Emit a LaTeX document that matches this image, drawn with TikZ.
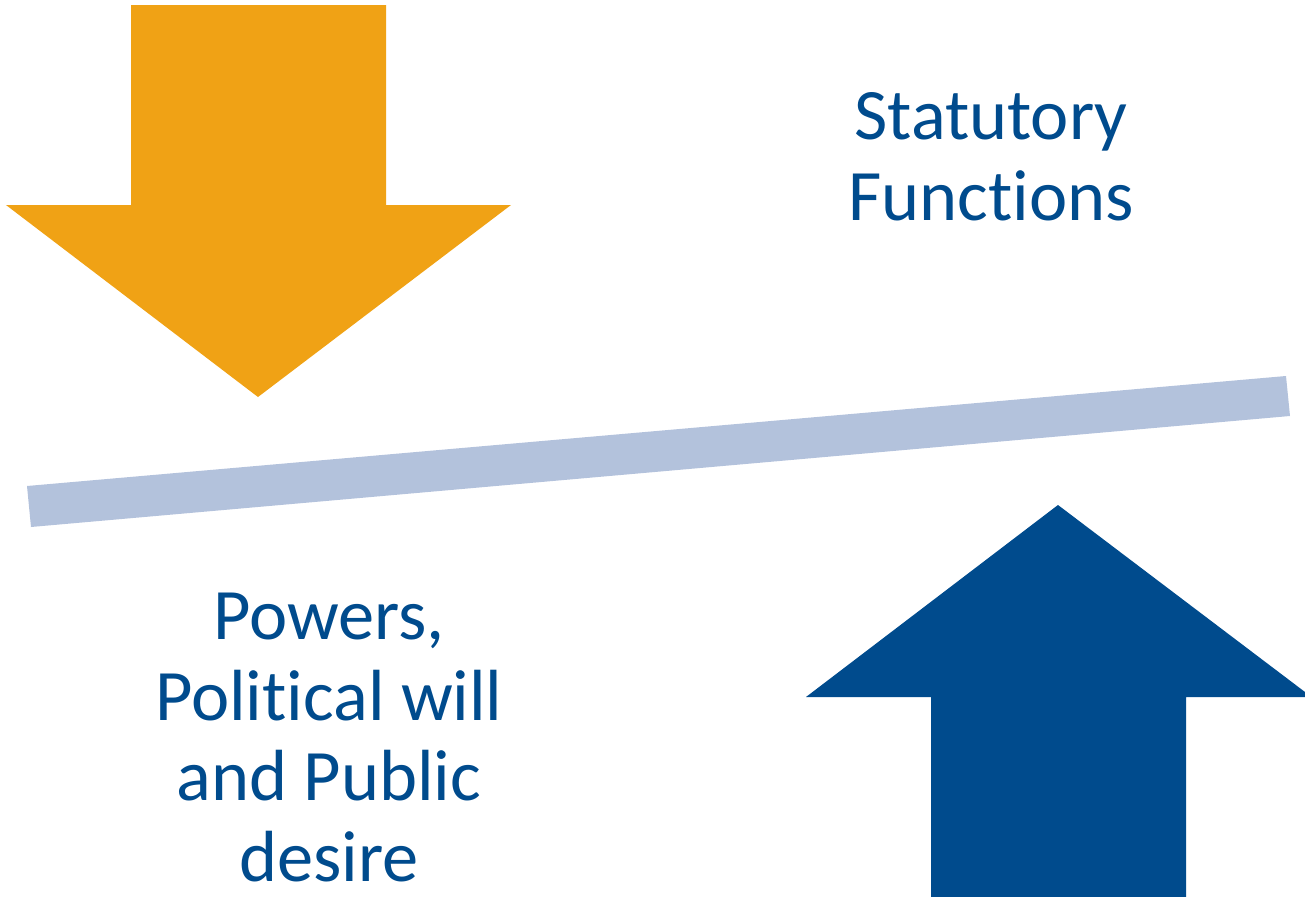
\documentclass[tikz,border=0pt]{standalone}
\usepackage{fontspec}
\setmainfont[Ligatures=NoCommon]{Carlito}
\definecolor{arroworange}{HTML}{F0A215}
\definecolor{arrowblue}{HTML}{004B8D}
\definecolor{beamblue}{HTML}{B3C2DC}
\tikzset{
  label text/.style={text=arrowblue, align=center, inner sep=0pt,
    font=\fontsize{20.6pt}{23pt}\selectfont},
}
\begin{document}
\begin{tikzpicture}[x=0.01cm,y=-0.01cm]
\useasboundingbox (0,0) rectangle (1305,897);

% downward arrow
\fill[arroworange] (131,5) -- (386,5) -- (386,205) -- (511,205) -- (258,397)
  -- (6,205) -- (131,205) -- cycle;

% tilted beam
\fill[beamblue] (27,486) -- (1286,376) -- (1290,416) -- (31,527) -- cycle;

% upward arrow
\fill[arrowblue] (931,897) -- (931,697) -- (806,697) -- (1058,505)
  -- (1305,692) -- (1305,697) -- (1186,697) -- (1186,897) -- cycle;

\node[label text] (statutory) at (991,156.5) {Statutory\\Functions};
\node[label text] (powers) at (329,737.5) {Powers,\\Political will\\and Public\\desire};
\end{tikzpicture}
\end{document}
